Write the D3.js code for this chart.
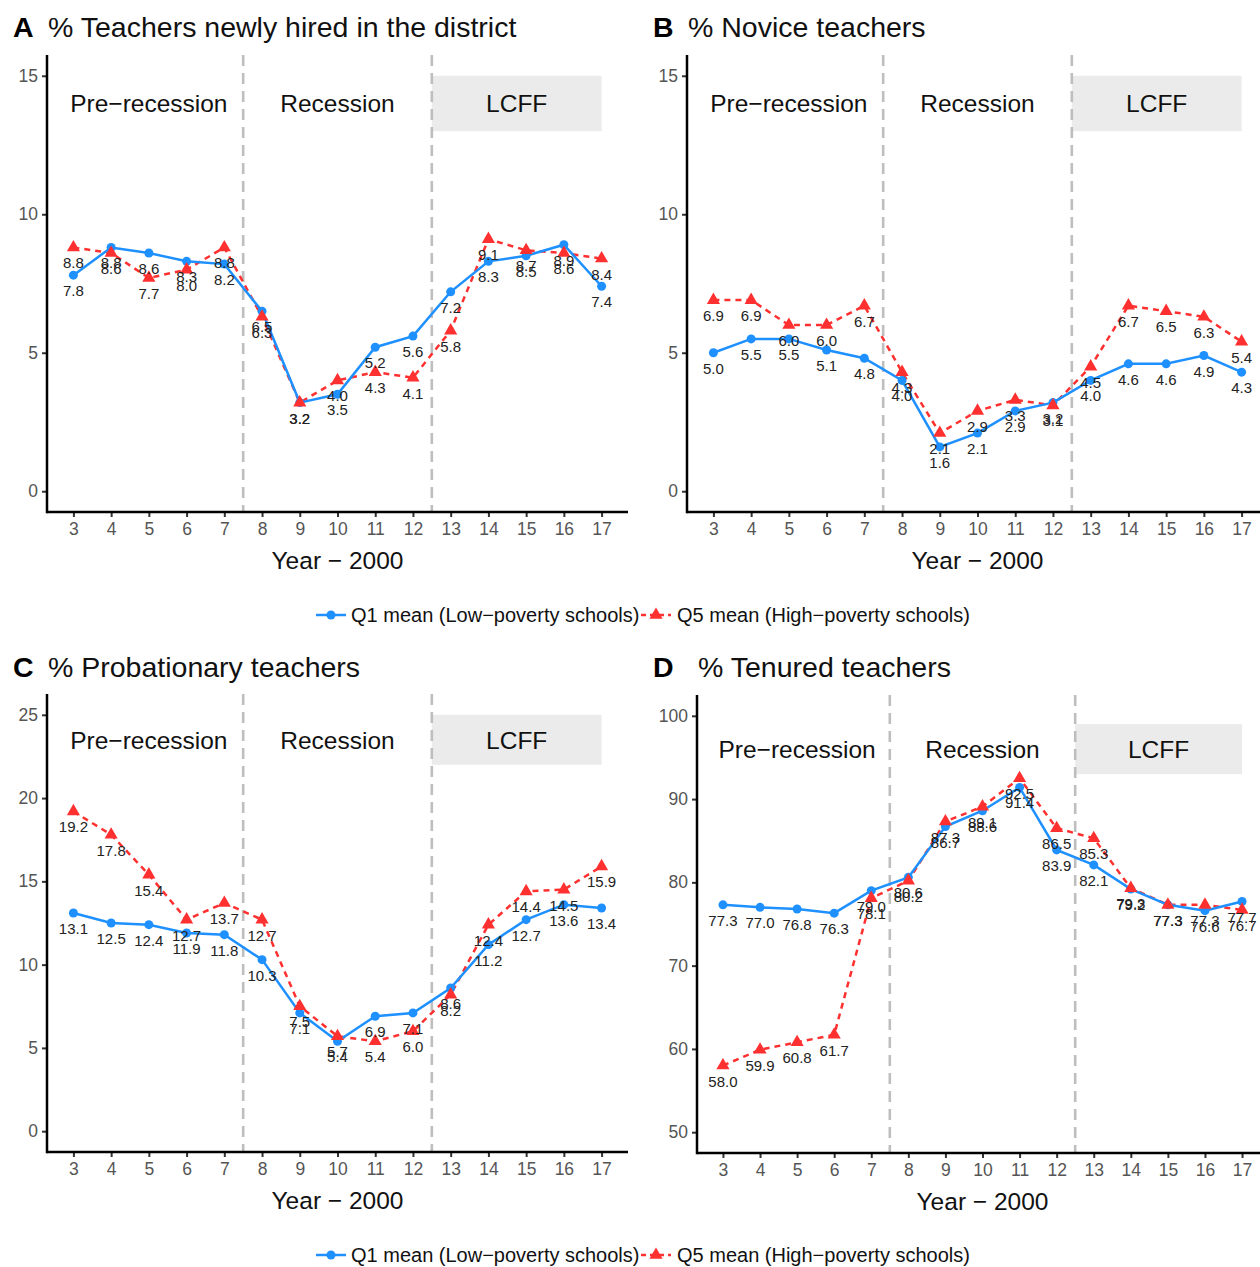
<!DOCTYPE html>
<html><head><meta charset="utf-8">
<script src="https://cdn.jsdelivr.net/npm/d3@7"></script>
<style>body{margin:0;background:#fff}svg{display:block;font-family:"Liberation Sans",Arial,sans-serif}</style>
</head><body><svg id="c" width="1260" height="1267"></svg>
<script>
const years = [3,4,5,6,7,8,9,10,11,12,13,14,15,16,17];
const hiredQ1 = [7.8,8.8,8.6,8.3,8.2,6.5,3.2,3.5,5.2,5.6,7.2,8.3,8.5,8.9,7.4];
const hiredQ5 = [8.8,8.6,7.7,8.0,8.8,6.3,3.2,4.0,4.3,4.1,5.8,9.1,8.7,8.6,8.4];
const noviceQ1 = [5.0,5.5,5.5,5.1,4.8,4.0,1.6,2.1,2.9,3.2,4.0,4.6,4.6,4.9,4.3];
const noviceQ5 = [6.9,6.9,6.0,6.0,6.7,4.3,2.1,2.9,3.3,3.1,4.5,6.7,6.5,6.3,5.4];
const probQ1 = [13.1,12.5,12.4,11.9,11.8,10.3,7.1,5.4,6.9,7.1,8.6,11.2,12.7,13.6,13.4];
const probQ5 = [19.2,17.8,15.4,12.7,13.7,12.7,7.5,5.7,5.4,6.0,8.2,12.4,14.4,14.5,15.9];
const tenuredQ1 = [77.3,77.0,76.8,76.3,79.0,80.6,86.7,88.6,91.4,83.9,82.1,79.2,77.3,76.6,77.7];
const tenuredQ5 = [58.0,59.9,60.8,61.7,78.1,80.2,87.3,89.1,92.5,86.5,85.3,79.3,77.3,77.3,76.7];
const periods = ["Pre\u2212recession","Recession","LCFF"];
const periodX = [5,10,14.75];
const breaks = [7.5,12.5];
const seriesNames = ["Q1 mean (Low\u2212poverty schools)","Q5 mean (High\u2212poverty schools)"];
const xTitle = "Year \u2212 2000";

const panels = [
  {letter:"A", title:"% Teachers newly hired in the district", q1:hiredQ1, q5:hiredQ5,
   yTicks:[0,5,10,15], yDom:[-0.75,15.75], band:[13,15], labY:14,
   left:47,right:628,top:55,bottom:512, titleY:37, lx:13, tx:48},
  {letter:"B", title:"% Novice teachers", q1:noviceQ1, q5:noviceQ5,
   yTicks:[0,5,10,15], yDom:[-0.75,15.75], band:[13,15], labY:14,
   left:687,right:1268,top:55,bottom:512, titleY:37, lx:653, tx:688},
  {letter:"C", title:"% Probationary teachers", q1:probQ1, q5:probQ5,
   yTicks:[0,5,10,15,20,25], yDom:[-1.25,26.25], band:[22,25], labY:23.5,
   left:47,right:628,top:694,bottom:1152, titleY:677, lx:13, tx:48},
  {letter:"D", title:"% Tenured teachers", q1:tenuredQ1, q5:tenuredQ5,
   yTicks:[50,60,70,80,90,100], yDom:[47.5,102.5], band:[93,99], labY:96,
   left:697,right:1268,top:695,bottom:1153, titleY:677, lx:653, tx:698}
];
const blue = "#1E90FF", red = "#FF3030";
const svg = d3.select("#c");

panels.forEach(p => {
  const g = svg.append("g");
  const x = d3.scaleLinear().domain([2.3,17.7]).range([p.left,p.right]);
  const y = d3.scaleLinear().domain(p.yDom).range([p.bottom,p.top]);
  // title
  g.append("text").attr("x",p.lx).attr("y",p.titleY).attr("font-size",28.5).attr("font-weight","bold").attr("fill","#000").text(p.letter);
  g.append("text").attr("x",p.tx).attr("y",p.titleY).attr("font-size",28.5).attr("fill","#111").text(p.title);
  // band
  g.append("rect").attr("x",x(12.5)).attr("width",x(17)-x(12.5))
    .attr("y",y(p.band[1])).attr("height",y(p.band[0])-y(p.band[1])).attr("fill","#EBEBEB");
  // breaks
  breaks.forEach(b => g.append("line").attr("x1",x(b)).attr("x2",x(b)).attr("y1",p.top).attr("y2",p.bottom)
    .attr("stroke","#BEBEBE").attr("stroke-width",2.6).attr("stroke-dasharray","11,7"));
  // period labels
  periods.forEach((s,i) => g.append("text").attr("x",x(periodX[i])).attr("y",y(p.labY)).attr("dy","0.36em")
    .attr("text-anchor","middle").attr("font-size",24.5).attr("fill","#111").text(s));
  // axes
  const ax = g.append("g").attr("transform",`translate(0,${p.bottom})`)
    .call(d3.axisBottom(x).tickValues(years).tickSize(5).tickPadding(6).tickFormat(d3.format("d")));
  ax.select(".domain").remove();
  ax.selectAll(".tick line").attr("stroke","#333").attr("stroke-width",2);
  ax.selectAll(".tick text").attr("font-size",17.5).attr("fill","#555").attr("font-family","Liberation Sans, Arial, sans-serif");
  const ay = g.append("g").attr("transform",`translate(${p.left},0)`)
    .call(d3.axisLeft(y).tickValues(p.yTicks).tickSize(5).tickPadding(4).tickFormat(d3.format("d")));
  ay.select(".domain").remove();
  ay.selectAll(".tick line").attr("stroke","#333").attr("stroke-width",2);
  ay.selectAll(".tick text").attr("font-size",17.5).attr("fill","#555").attr("font-family","Liberation Sans, Arial, sans-serif");
  g.append("line").attr("x1",p.left).attr("x2",p.right).attr("y1",p.bottom).attr("y2",p.bottom).attr("stroke","#000").attr("stroke-width",2.5);
  g.append("line").attr("x1",p.left).attr("x2",p.left).attr("y1",p.top).attr("y2",p.bottom+1.25).attr("stroke","#000").attr("stroke-width",2.5);
  g.append("text").attr("x", p.left + (p.right-p.left)/2).attr("y",p.bottom+57).attr("text-anchor","middle")
    .attr("font-size",24.5).attr("fill","#111").text(xTitle);
  // lines
  const line = d3.line().x((d,i)=>x(years[i])).y(d=>y(d));
  g.append("path").datum(p.q5).attr("d",line).attr("fill","none").attr("stroke",red).attr("stroke-width",2.5).attr("stroke-dasharray","6,5");
  g.append("path").datum(p.q1).attr("d",line).attr("fill","none").attr("stroke",blue).attr("stroke-width",2.5);
  g.selectAll(".pt1").data(p.q1).join("circle").attr("cx",(d,i)=>x(years[i])).attr("cy",d=>y(d)).attr("r",4.5).attr("fill",blue);
  const tri = d3.symbol().type(d3.symbolTriangle).size(75);
  g.selectAll(".pt5").data(p.q5).join("path").attr("d",tri).attr("transform",(d,i)=>`translate(${x(years[i])},${y(d)})`).attr("fill",red);
  // labels
  [p.q1,p.q5].forEach(arr => g.selectAll(null).data(arr).join("text")
    .attr("x",(d,i)=>x(years[i])).attr("y",d=>y(d)+21).attr("text-anchor","middle")
    .attr("font-size",15).attr("fill","#222").text(d=>d3.format(".1f")(d)));
});

// legends
[615,1255].forEach(ly => {
  const lg = svg.append("g");
  lg.append("line").attr("x1",316).attr("x2",346).attr("y1",ly).attr("y2",ly).attr("stroke",blue).attr("stroke-width",2.5);
  lg.append("circle").attr("cx",331).attr("cy",ly).attr("r",4.5).attr("fill",blue);
  lg.append("text").attr("x",351).attr("y",ly).attr("dy","0.35em").attr("font-size",20).attr("fill","#111").text(seriesNames[0]);
  lg.append("line").attr("x1",641).attr("x2",671).attr("y1",ly).attr("y2",ly).attr("stroke",red).attr("stroke-width",2.5).attr("stroke-dasharray","5,4");
  lg.append("path").attr("d",d3.symbol().type(d3.symbolTriangle).size(75)).attr("transform",`translate(656,${ly})`).attr("fill",red);
  lg.append("text").attr("x",677).attr("y",ly).attr("dy","0.35em").attr("font-size",20).attr("fill","#111").text(seriesNames[1]);
});
</script></body></html>
